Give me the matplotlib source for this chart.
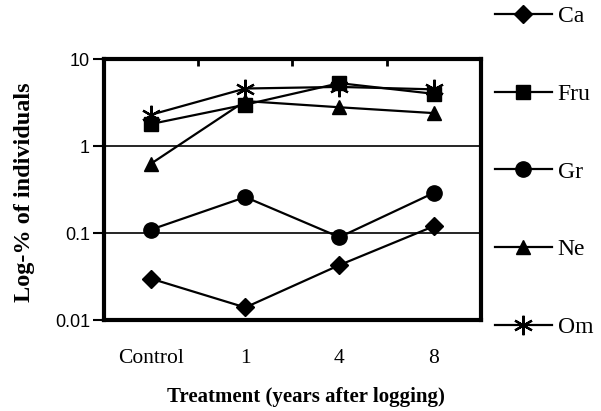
import numpy as np
import matplotlib.pyplot as plt
from matplotlib.ticker import FixedLocator, NullLocator

categories = ["Control", "1", "4", "8"]
ca = [0.030, 0.014, 0.043, 0.12]
fru = [1.8, 3.0, 5.3, 4.0]
gr = [0.11, 0.26, 0.09, 0.29]
ne = [0.63, 3.3, 2.8, 2.4]
om = [2.3, 4.6, 4.8, 4.5]

series = [("Ca", ca, "D", 9), ("Fru", fru, "s", 10), ("Gr", gr, "o", 11),
          ("Ne", ne, "^", 10), ("Om", om, (6, 2, 0), 14)]

plt.rcParams['font.family'] = ['Liberation Serif', 'DejaVu Serif']

fig = plt.figure(figsize=(6.01, 4.11), dpi=100)
ax = fig.add_axes([0.173, 0.221, 0.627, 0.635])

x = np.arange(len(categories)) + 0.5
for name, vals, mk, ms in series:
    ax.plot(x, vals, color="black", lw=1.6, marker=mk, markersize=ms,
            markeredgewidth=1.6 if name == "Om" else 1, label=name)

ax.set_yscale("log")
ax.set_ylim(0.01, 10)
ax.set_xlim(0, len(categories))
ax.yaxis.set_major_locator(FixedLocator([0.01, 0.1, 1, 10]))
ax.yaxis.set_minor_locator(NullLocator())
ax.set_yticklabels(["0.01", "0.1", "1", "10"], family="Liberation Sans")
for yv in [0.1, 1]:
    ax.axhline(yv, color="black", lw=1.2, zorder=0)

ax.set_xticks(x)
ax.set_xticklabels(categories)
ax.tick_params(axis="x", length=0, pad=21, labelsize=15.5)
ax.tick_params(axis="y", length=8, width=1.5, direction="out", labelsize=13, pad=2)

ax2 = ax.secondary_xaxis("top")
ax2.set_xticks([1, 2, 3])
ax2.set_xticklabels([])
ax2.tick_params(direction="in", length=5, width=2)
ax2.spines["top"].set_visible(False)

for sp in ax.spines.values():
    sp.set_linewidth(3)

ax.set_ylabel("Log-% of individuals", fontsize=17.5, fontweight="bold")
ax.yaxis.set_label_coords(-0.183, 0.49)
ax.set_xlabel("Treatment (years after logging)", fontsize=15, fontweight="bold")
ax.xaxis.set_label_coords(0.536, -0.255)

leg = ax.legend(loc="upper left", bbox_to_anchor=(1.038, 1.205), frameon=False,
                fontsize=17, handlelength=2.4, labelspacing=2.38, handletextpad=0.25,
                borderaxespad=0, borderpad=0)

fig.savefig("out.png", dpi=100)
